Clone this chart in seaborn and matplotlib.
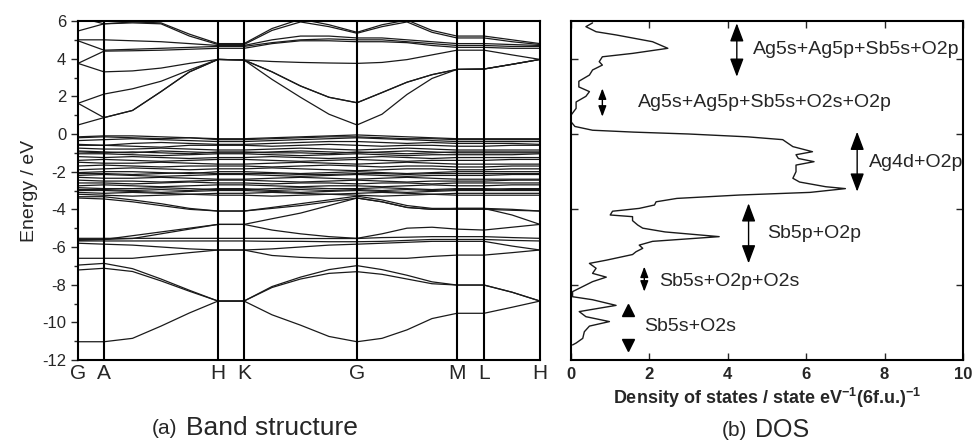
import numpy as np
import pandas as pd
import matplotlib.pyplot as plt
import seaborn as sns

# k-path: high-symmetry points and sampled positions along the path
k_names = ['G', 'A', 'H', 'K', 'G', 'M', 'L', 'H']
k_sym = [0, 26, 140, 166, 279, 379, 406, 462]
k_cols = [0, 26, 54.5, 83, 111.5, 140, 166, 194, 222.5, 251, 279, 304, 329, 354, 379, 406, 434, 462]

# band energies (eV) read at k_cols
bands = [
    # conduction
    [0.48, 0.87, 1.25, 2.25, 3.3, 3.96, 3.93, 2.9, 1.95, 1.05, 0.48, 1.05, 2.1, 2.95, 3.43, 3.45, 3.7, 3.96],
    [1.63, 0.87, 1.25, 2.25, 3.3, 3.96, 3.93, 3.3, 2.55, 1.95, 1.66, 2.2, 2.75, 3.15, 3.43, 3.45, 3.7, 3.96],
    [1.63, 2.12, 2.4, 2.8, 3.4, 3.96, 3.93, 3.3, 2.55, 1.95, 1.66, 2.2, 2.75, 3.15, 3.43, 3.45, 3.7, 3.96],
    [3.75, 3.3, 3.35, 3.5, 3.75, 3.96, 3.93, 3.85, 3.8, 3.77, 3.75, 3.8, 3.95, 4.2, 4.45, 4.45, 4.2, 3.96],
    [3.75, 4.4, 4.42, 4.45, 4.5, 4.55, 4.55, 4.8, 4.95, 4.95, 4.9, 4.9, 4.85, 4.7, 4.6, 4.6, 4.55, 4.55],
    [4.95, 4.45, 4.5, 4.55, 4.6, 4.65, 4.65, 4.85, 5.0, 5.05, 5.0, 5.0, 4.9, 4.8, 4.7, 4.7, 4.65, 4.65],
    [5.0, 5.0, 4.95, 4.9, 4.8, 4.7, 4.7, 5.0, 5.2, 5.2, 5.1, 5.1, 5.0, 4.9, 4.8, 4.8, 4.75, 4.7],
    [5.47, 5.85, 5.9, 5.85, 5.2, 4.75, 4.75, 5.5, 5.95, 5.7, 5.35, 5.7, 5.95, 5.4, 5.1, 5.1, 4.9, 4.75],
    [6.2, 5.85, 5.95, 5.9, 5.3, 4.8, 4.8, 5.6, 6.1, 5.8, 5.4, 5.8, 6.05, 5.5, 5.2, 5.2, 5.0, 4.8],
    # valence
    [-0.15, -0.1, -0.1, -0.15, -0.2, -0.25, -0.25, -0.2, -0.15, -0.1, -0.05, -0.1, -0.15, -0.2, -0.25, -0.25, -0.25, -0.25],
    [-0.2, -0.15, -0.2, -0.25, -0.2, -0.3, -0.3, -0.25, -0.2, -0.15, -0.15, -0.2, -0.25, -0.25, -0.3, -0.3, -0.3, -0.3],
    [-0.35, -0.3, -0.25, -0.3, -0.35, -0.4, -0.4, -0.35, -0.3, -0.25, -0.2, -0.25, -0.3, -0.35, -0.4, -0.4, -0.4, -0.4],
    [-0.55, -0.6, -0.5, -0.45, -0.5, -0.55, -0.55, -0.5, -0.45, -0.4, -0.4, -0.45, -0.5, -0.45, -0.5, -0.5, -0.5, -0.55],
    [-0.6, -0.6, -0.65, -0.7, -0.6, -0.6, -0.6, -0.65, -0.6, -0.55, -0.6, -0.65, -0.6, -0.6, -0.65, -0.65, -0.6, -0.6],
    [-0.75, -0.8, -0.8, -0.75, -0.8, -0.85, -0.85, -0.8, -0.75, -0.8, -0.85, -0.8, -0.75, -0.8, -0.85, -0.85, -0.85, -0.85],
    [-0.9, -0.95, -1.0, -0.9, -0.95, -1.0, -1.0, -0.95, -0.9, -0.95, -1.0, -0.95, -0.9, -0.95, -1.0, -1.0, -1.0, -1.0],
    [-0.95, -1.0, -0.95, -1.0, -1.05, -0.95, -0.95, -1.0, -1.0, -1.05, -0.95, -1.0, -1.05, -1.0, -0.95, -0.95, -0.95, -0.95],
    [-1.05, -1.05, -1.1, -1.15, -1.1, -1.05, -1.05, -1.1, -1.15, -1.1, -1.05, -1.1, -1.15, -1.1, -1.1, -1.1, -1.1, -1.05],
    [-1.2, -1.25, -1.2, -1.25, -1.3, -1.25, -1.25, -1.2, -1.25, -1.3, -1.25, -1.2, -1.25, -1.3, -1.25, -1.25, -1.25, -1.25],
    [-1.4, -1.35, -1.4, -1.45, -1.4, -1.35, -1.35, -1.4, -1.45, -1.4, -1.35, -1.4, -1.45, -1.4, -1.4, -1.4, -1.35, -1.35],
    [-1.5, -1.55, -1.55, -1.5, -1.55, -1.6, -1.6, -1.55, -1.5, -1.55, -1.6, -1.55, -1.5, -1.55, -1.6, -1.6, -1.6, -1.6],
    [-1.7, -1.65, -1.7, -1.75, -1.7, -1.7, -1.7, -1.75, -1.7, -1.65, -1.7, -1.75, -1.7, -1.7, -1.75, -1.75, -1.7, -1.7],
    [-1.9, -1.85, -1.8, -1.85, -1.9, -1.85, -1.85, -1.8, -1.85, -1.9, -1.95, -1.9, -1.85, -1.85, -1.9, -1.9, -1.85, -1.85],
    [-2.05, -2.0, -2.0, -2.05, -2.1, -2.0, -2.0, -2.05, -2.1, -2.05, -2.0, -2.05, -2.1, -2.05, -2.0, -2.0, -2.0, -2.0],
    [-2.1, -2.1, -2.15, -2.1, -2.05, -2.1, -2.1, -2.1, -2.15, -2.15, -2.1, -2.1, -2.15, -2.1, -2.1, -2.1, -2.1, -2.1],
    [-2.2, -2.15, -2.2, -2.25, -2.2, -2.15, -2.15, -2.2, -2.25, -2.2, -2.15, -2.2, -2.25, -2.2, -2.2, -2.2, -2.15, -2.15],
    [-2.3, -2.35, -2.35, -2.3, -2.35, -2.4, -2.4, -2.35, -2.3, -2.35, -2.4, -2.35, -2.3, -2.35, -2.4, -2.4, -2.4, -2.4],
    [-2.45, -2.5, -2.5, -2.55, -2.5, -2.45, -2.45, -2.5, -2.55, -2.5, -2.45, -2.5, -2.55, -2.5, -2.5, -2.5, -2.45, -2.45],
    [-2.6, -2.6, -2.65, -2.6, -2.55, -2.6, -2.6, -2.65, -2.6, -2.6, -2.65, -2.6, -2.6, -2.65, -2.6, -2.6, -2.6, -2.6],
    [-2.75, -2.7, -2.75, -2.8, -2.75, -2.7, -2.7, -2.75, -2.8, -2.75, -2.75, -2.8, -2.75, -2.7, -2.75, -2.75, -2.7, -2.7],
    [-2.85, -2.9, -2.9, -2.85, -2.9, -2.95, -2.95, -2.9, -2.85, -2.9, -2.9, -2.85, -2.9, -2.95, -2.9, -2.9, -2.95, -2.95],
    [-2.95, -2.95, -3.0, -2.95, -3.0, -2.9, -2.9, -3.0, -2.95, -3.0, -2.95, -3.0, -2.95, -3.0, -2.95, -2.95, -2.9, -2.9],
    [-3.0, -3.0, -3.05, -3.1, -3.05, -3.0, -3.0, -3.05, -3.1, -3.05, -3.0, -3.05, -3.1, -3.05, -3.0, -3.0, -3.0, -3.0],
    [-3.1, -3.15, -3.1, -3.15, -3.2, -3.15, -3.15, -3.1, -3.15, -3.2, -3.15, -3.1, -3.15, -3.2, -3.15, -3.15, -3.15, -3.15],
    [-3.2, -3.25, -3.3, -3.25, -3.2, -3.25, -3.25, -3.3, -3.25, -3.2, -3.25, -3.3, -3.25, -3.2, -3.25, -3.25, -3.25, -3.25],
    # lower valence
    [-3.33, -3.33, -3.5, -3.7, -3.95, -4.09, -4.09, -3.9, -3.7, -3.5, -3.3, -3.5, -3.8, -3.95, -3.95, -3.95, -4.0, -4.09],
    [-3.4, -3.45, -3.6, -3.8, -4.0, -4.09, -4.09, -3.95, -3.8, -3.6, -3.4, -3.6, -3.9, -4.0, -4.0, -4.0, -4.05, -4.09],
    [-5.65, -5.6, -5.55, -5.3, -5.05, -4.8, -4.8, -4.5, -4.2, -3.8, -3.4, -3.6, -3.9, -4.0, -3.95, -3.95, -4.3, -4.8],
    [-5.6, -5.6, -5.4, -5.2, -5.0, -4.8, -4.8, -5.1, -5.3, -5.45, -5.54, -5.3, -5.0, -4.95, -5.05, -5.1, -4.95, -4.8],
    [-5.54, -5.54, -5.54, -5.54, -5.54, -5.54, -5.54, -5.54, -5.55, -5.55, -5.55, -5.5, -5.48, -5.45, -5.45, -5.45, -5.5, -5.54],
    [-5.68, -5.68, -5.68, -5.68, -5.68, -5.68, -5.68, -5.7, -5.7, -5.72, -5.72, -5.7, -5.65, -5.6, -5.6, -5.6, -5.65, -5.68],
    [-5.8, -5.85, -5.9, -6.0, -6.1, -6.16, -6.16, -6.1, -6.0, -5.9, -5.85, -5.8, -5.75, -5.7, -5.7, -5.7, -5.95, -6.16],
    [-6.6, -6.6, -6.6, -6.45, -6.3, -6.16, -6.16, -6.45, -6.55, -6.6, -6.6, -6.6, -6.6, -6.5, -6.43, -6.43, -6.3, -6.16],
    [-6.96, -6.87, -7.15, -7.7, -8.3, -8.87, -8.87, -8.1, -7.6, -7.2, -6.99, -7.2, -7.5, -7.85, -8.02, -8.02, -8.4, -8.87],
    [-7.22, -7.13, -7.3, -7.8, -8.35, -8.87, -8.87, -8.15, -7.7, -7.4, -7.31, -7.45, -7.7, -7.95, -8.02, -8.02, -8.4, -8.87],
    [-11.03, -11.03, -10.85, -10.2, -9.5, -8.87, -8.87, -9.6, -10.15, -10.75, -11.03, -10.85, -10.4, -9.8, -9.52, -9.52, -9.2, -8.87],
]

# DOS curve (states / eV) against energy (eV)
dos_energy = [5.9, 5.7, 5.43, 5.26, 4.9, 4.55, 4.28, 4.1, 3.84, 3.66, 3.4, 3.13, 2.8, 2.5, 2.25, 2.0,
              1.7, 1.36, 1.0, 0.65, 0.4, 0.2, 0.1, 0.0, -0.15, -0.3, -0.67, -0.94, -1.1, -1.3, -1.47,
              -1.65, -2.0, -2.35, -2.55, -2.8, -2.9, -3.1, -3.24, -3.42, -3.6, -3.77, -3.95, -4.1, -4.3,
              -4.39, -4.6, -4.83, -5.0, -5.2, -5.45, -5.7, -5.9, -6.07, -6.25, -6.4, -6.7, -6.87, -7.13,
              -7.4, -7.6, -7.84, -8.1, -8.37, -8.64, -8.8, -9.1, -9.25, -9.43, -9.7, -9.96, -10.2, -10.5,
              -10.85, -11.1, -11.2]
dos_value = [0.55, 0.38, 0.64, 1.15, 2.08, 2.47, 1.57, 0.8, 0.72, 0.8, 0.55, 0.47, 0.2, 0.2, 0.47, 0.38,
             0.13, 0.13, 0.0, 0.0, 0.1, 0.55, 1.6, 3.0, 4.5, 5.4, 5.66, 6.16, 5.74, 5.8, 6.2,
             5.74, 5.74, 5.66, 5.83, 6.5, 7.0, 6.1, 4.3, 2.7, 2.17, 2.13, 1.74, 1.06, 1.0,
             1.57, 1.57, 1.7, 1.83, 2.4, 3.78, 2.08, 1.74, 1.83, 1.66, 1.57, 0.9, 0.47, 0.64,
             0.55, 0.9, 0.55, 0.3, 0.04, 0.04, 0.55, 1.15, 0.72, 0.21, 0.38, 0.98, 0.47, 0.34,
             0.3, 0.13, 0.04]

# orbital annotations: label, arrow x, arrow top, arrow bottom, text x, text y
dos_labels = ['Ag5s+Ag5p+Sb5s+O2p', 'Ag5s+Ag5p+Sb5s+O2s+O2p', 'Ag4d+O2p', 'Sb5p+O2p', 'Sb5s+O2p+O2s']
arrow_x = [4.23, 0.8, 7.3, 4.53, 1.87]
arrow_top = [5.88, 2.42, 0.12, -3.68, -7.04]
arrow_bot = [3.04, 0.92, -3.06, -6.87, -8.37]
arrow_head = [14, 8, 14, 14, 8]
text_x = [4.65, 1.7, 7.6, 5.0, 2.25]
text_y = [4.5, 1.68, -1.5, -5.27, -7.84]

sns.set_style('ticks')
plt.rcParams['font.family'] = ['Liberation Sans', 'DejaVu Sans']
plt.rcParams['axes.unicode_minus'] = False
plt.rcParams['mathtext.fontset'] = 'custom'
plt.rcParams['mathtext.rm'] = 'Liberation Sans:bold'
plt.rcParams['mathtext.default'] = 'rm'

fig = plt.figure(figsize=(9.72, 4.43), dpi=100)
ax1 = fig.add_axes([78 / 972, 1 - 360 / 443, 462 / 972, 339 / 443])
ax2 = fig.add_axes([571 / 972, 1 - 360 / 443, 392 / 972, 339 / 443])

# band structure
rows = []
for b, energies in enumerate(bands):
    for k, e in zip(k_cols, energies):
        rows.append({'band': b, 'k': k, 'E': e})
band_df = pd.DataFrame(rows)
sns.lineplot(data=band_df, x='k', y='E', units='band', estimator=None,
             color='#1a1a1a', lw=0.9, ax=ax1, legend=False)
for k in k_sym[1:-1]:
    ax1.axvline(k, color='black', lw=1.5)
ax1.set_xlim(0, 462)
ax1.set_ylim(-12, 6)
ax1.set_xticks(k_sym)
ax1.set_xticklabels(k_names, fontsize=15)
ax1.tick_params(axis='x', length=0, pad=3)
ax1.set_yticks(np.arange(-12, 7, 2))
ax1.set_yticks(np.arange(-11, 6, 2), minor=True)
ax1.tick_params(axis='y', labelsize=12, length=5, width=1, direction='out')
ax1.tick_params(axis='y', which='minor', length=3, width=1)
ax1.set_xlabel('')
ax1.set_ylabel('Energy / eV', fontsize=14, labelpad=3)
for s in ax1.spines.values():
    s.set_linewidth(1.5)
    s.set_color('black')

# DOS
sns.lineplot(x=dos_value, y=dos_energy, sort=False, estimator=None, color='#1a1a1a', lw=1, ax=ax2)
ax2.set_xlim(0, 10)
ax2.set_ylim(-12, 6)
ax2.set_xticks(np.arange(0, 11, 2))
ax2.set_yticks([-8, -4, 0, 4])
ax2.set_yticklabels([])
ax2.tick_params(axis='both', direction='in', length=5, width=1, top=True, right=True)
ax2.tick_params(axis='x', labelsize=12, pad=5)
for lab in ax2.get_xticklabels():
    lab.set_fontweight('bold')
ax2.set_xlabel('Density of states / state eV$^{-1}$(6f.u.)$^{-1}$', fontsize=13,
               fontweight='bold', labelpad=3)
for s in ax2.spines.values():
    s.set_linewidth(1.5)
    s.set_color('black')

for lab, ax_, t, b, hs, tx, ty in zip(dos_labels, arrow_x, arrow_top, arrow_bot, arrow_head, text_x, text_y):
    ax2.annotate('', xy=(ax_, t), xytext=(ax_, b),
                 arrowprops=dict(arrowstyle='<|-|>,head_length=0.8,head_width=0.3',
                                 color='black', lw=1, shrinkA=0, shrinkB=0, mutation_scale=hs))
    ax2.text(tx, ty, lab, fontsize=14, va='center', ha='left')
ax2.plot([1.45], [-9.35], marker='^', color='black', ms=8)
ax2.plot([1.45], [-11.2], marker='v', color='black', ms=8)
ax2.text(1.87, -10.2, 'Sb5s+O2s', fontsize=14, va='center', ha='left')

# panel captions
fig.text(152 / 972, 1 - 428 / 443, '(a)', fontsize=15, va='center', ha='left')
fig.text(186 / 972, 1 - 428 / 443, 'Band structure', fontsize=19, va='center', ha='left')
fig.text(722 / 972, 1 - 430 / 443, '(b)', fontsize=15, va='center', ha='left')
fig.text(755 / 972, 1 - 430 / 443, 'DOS', fontsize=18, va='center', ha='left')

fig.savefig('out.png', dpi=100)
